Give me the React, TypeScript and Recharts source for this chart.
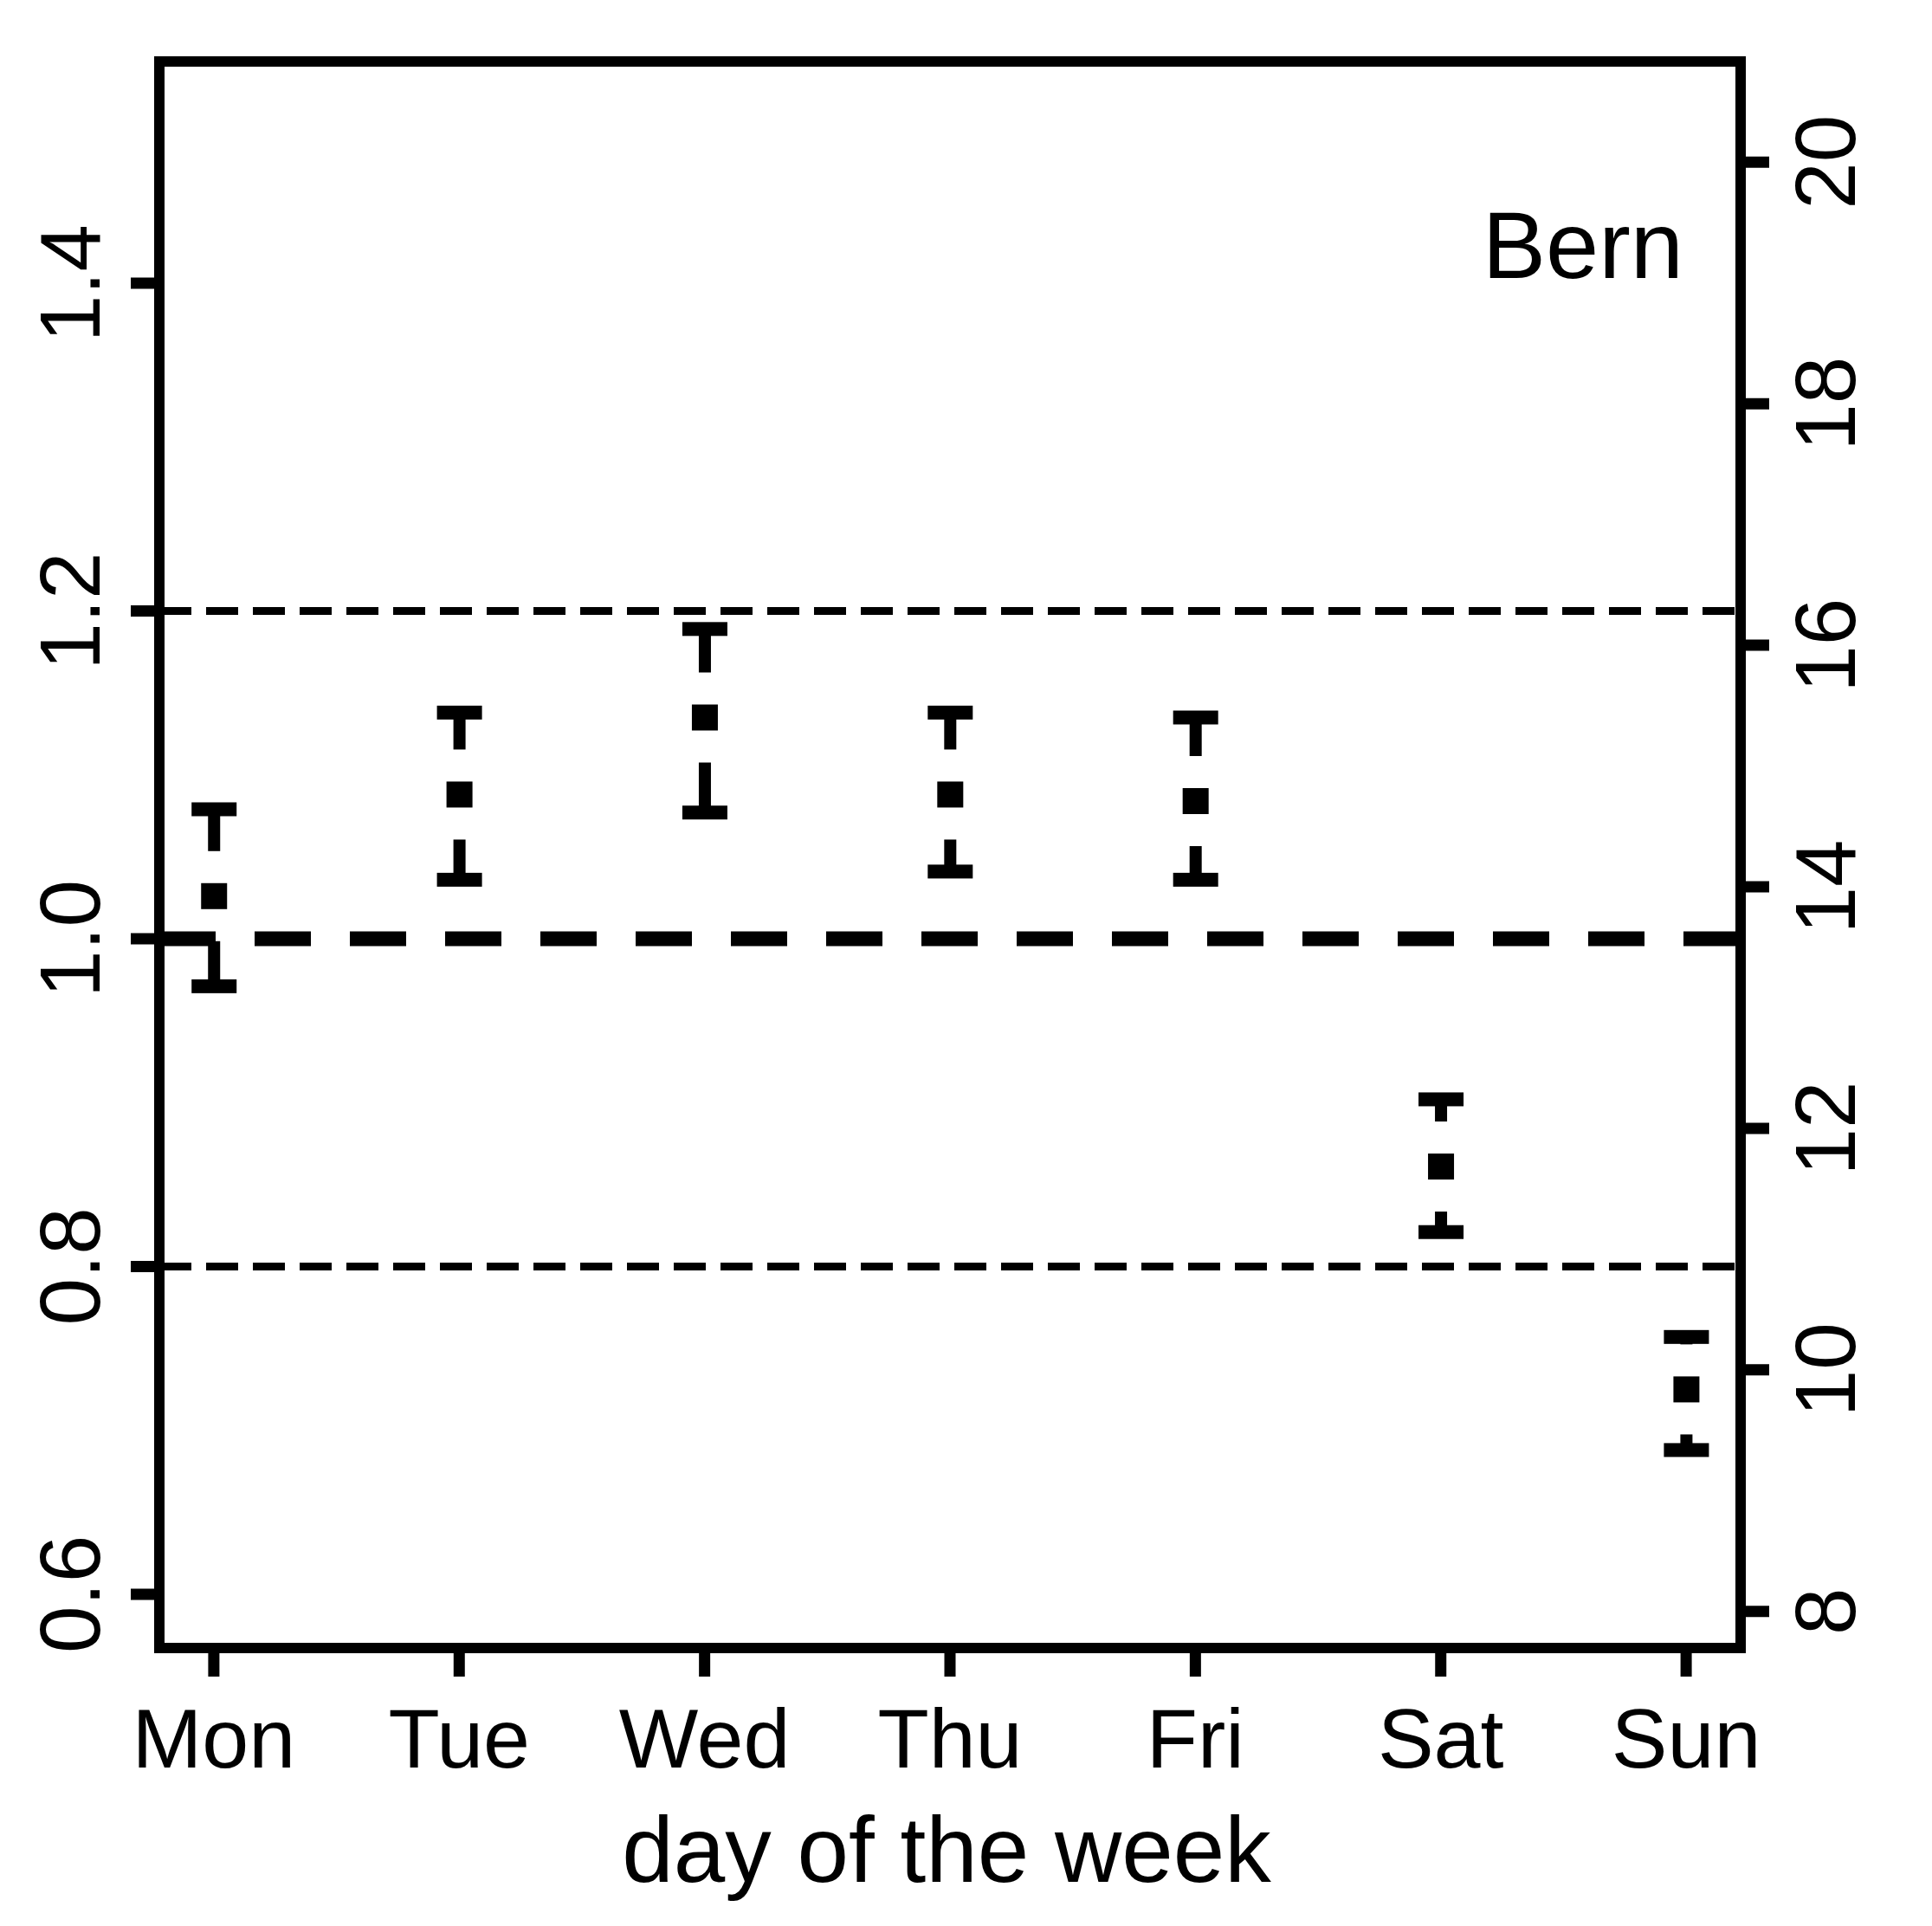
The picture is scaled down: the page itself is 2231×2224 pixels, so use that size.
import React from 'react';
import { ComposedChart, Bar, XAxis, YAxis, ReferenceLine, ReferenceArea, Label } from 'recharts';

const days = ['Mon', 'Tue', 'Wed', 'Thu', 'Fri', 'Sat', 'Sun'];
const dayPositions = [1, 2, 3, 4, 5, 6, 7];
const meanValues = [1.026, 1.088, 1.135, 1.088, 1.084, 0.861, 0.725];
const upperValues = [1.079, 1.138, 1.189, 1.138, 1.135, 0.902, 0.757];
const lowerValues = [0.971, 1.036, 1.077, 1.041, 1.036, 0.821, 0.688];
const leftTicks = [0.6, 0.8, 1.0, 1.2, 1.4];
const rightTicks = [8, 10, 12, 14, 16, 18, 20];
const rightScaleFactor = 13.57;
const leftDomain = [0.5672, 1.5353];
const xDomain = [0.778, 7.222];

const data = days.map((d, i) => ({
  x: dayPositions[i],
  day: d,
  mid: meanValues[i],
  hi: upperValues[i],
  lo: lowerValues[i],
  range: [lowerValues[i], upperValues[i]],
}));

const FONT = 'Liberation Sans, Arial, Helvetica, sans-serif';

const ErrShape = (props: any) => {
  const { x, y, width, height, payload } = props;
  if (x == null || y == null) return null;
  const cx = x + width / 2;
  const top = Math.min(y, y + height);
  const bot = Math.max(y, y + height);
  const span = payload.hi - payload.lo;
  const my = top + (bot - top) * (payload.hi - payload.mid) / span;
  const capW = 52;
  const capT = 16;
  const lineW = 14;
  const gap = 52;
  const sq = 30;
  const upperEnd = Math.max(top, my - gap);
  const lowerStart = Math.min(bot, my + gap);
  return (
    <g>
      <rect x={cx - capW / 2} y={top - capT / 2} width={capW} height={capT} fill="#000" />
      <rect x={cx - capW / 2} y={bot - capT / 2} width={capW} height={capT} fill="#000" />
      {upperEnd > top && <rect x={cx - lineW / 2} y={top} width={lineW} height={upperEnd - top} fill="#000" />}
      {bot > lowerStart && <rect x={cx - lineW / 2} y={lowerStart} width={lineW} height={bot - lowerStart} fill="#000" />}
      <rect x={cx - sq / 2} y={my - sq / 2} width={sq} height={sq} fill="#000" />
    </g>
  );
};

const XTick = (props: any) => {
  const { x, y, payload } = props;
  const idx = dayPositions.indexOf(payload.value);
  return (
    <text x={x} y={y + 103} textAnchor="middle" fontSize={97} fontFamily={FONT} fill="#000">
      {idx >= 0 ? days[idx] : ''}
    </text>
  );
};

const LeftTick = (props: any) => {
  const { x, y, payload } = props;
  const bx = x - 34;
  return (
    <text x={bx} y={y} transform={`rotate(-90, ${bx}, ${y})`} textAnchor="middle" fontSize={98} fontFamily={FONT} fill="#000">
      {Number(payload.value).toFixed(1)}
    </text>
  );
};

const RightTick = (props: any) => {
  const { x, y, payload } = props;
  const bx = x + 97;
  return (
    <text x={bx} y={y} transform={`rotate(-90, ${bx}, ${y})`} textAnchor="middle" fontSize={98} fontFamily={FONT} fill="#000">
      {String(payload.value)}
    </text>
  );
};

const renderTitle = (p: any) => {
  const vb = p.viewBox || {};
  return (
    <text x={vb.x + vb.width / 2 - 4} y={vb.y + 270} textAnchor="middle" fontSize={107} fontFamily={FONT} fill="#000">
      day of the week
    </text>
  );
};

const renderBern = (p: any) => {
  const vb = p.viewBox || {};
  return (
    <text x={vb.x + vb.width - 66} y={vb.y + 250} textAnchor="end" fontSize={110} fontFamily={FONT} fill="#000">
      Bern
    </text>
  );
};

export default function App() {
  return (
    <div style={{ width: 2215, height: 2216, background: '#fff' }}>
      <ComposedChart
        width={2215}
        height={2216}
        data={data}
        margin={{ top: 63, right: 93, left: 56, bottom: 121 }}
      >
        <XAxis
          dataKey="x"
          type="number"
          domain={xDomain}
          allowDataOverflow
          ticks={dayPositions}
          interval={0}
          height={200}
          axisLine={false}
          tickSize={33}
          tickLine={{ stroke: '#000', strokeWidth: 13 }}
          tick={<XTick />}
        >
          <Label content={renderTitle} />
        </XAxis>
        <YAxis
          yAxisId="left"
          type="number"
          domain={leftDomain}
          allowDataOverflow
          ticks={leftTicks}
          interval={0}
          width={120}
          axisLine={false}
          tickSize={33}
          tickLine={{ stroke: '#000', strokeWidth: 13 }}
          tick={<LeftTick />}
        />
        <YAxis
          yAxisId="right"
          orientation="right"
          type="number"
          domain={[leftDomain[0] * rightScaleFactor, leftDomain[1] * rightScaleFactor]}
          allowDataOverflow
          ticks={rightTicks}
          interval={0}
          width={120}
          axisLine={false}
          tickSize={33}
          tickLine={{ stroke: '#000', strokeWidth: 13 }}
          tick={<RightTick />}
        />
        <ReferenceLine yAxisId="left" y={1.2} stroke="#000" strokeWidth={9} strokeDasharray="37 17" />
        <ReferenceLine yAxisId="left" y={0.8} stroke="#000" strokeWidth={9} strokeDasharray="37 17" />
        <ReferenceLine yAxisId="left" y={1.0} stroke="#000" strokeWidth={17} strokeDasharray="65 45" />
        <Bar
          yAxisId="left"
          dataKey="range"
          barSize={52}
          shape={<ErrShape />}
          isAnimationActive={false}
        />
        <ReferenceArea
          yAxisId="left"
          x1={xDomain[0]}
          x2={xDomain[1]}
          y1={leftDomain[0]}
          y2={leftDomain[1]}
          fill="none"
          fillOpacity={0}
          stroke="#000"
          strokeWidth={12}
          ifOverflow="visible"
        >
          <Label content={renderBern} />
        </ReferenceArea>
      </ComposedChart>
    </div>
  );
}
